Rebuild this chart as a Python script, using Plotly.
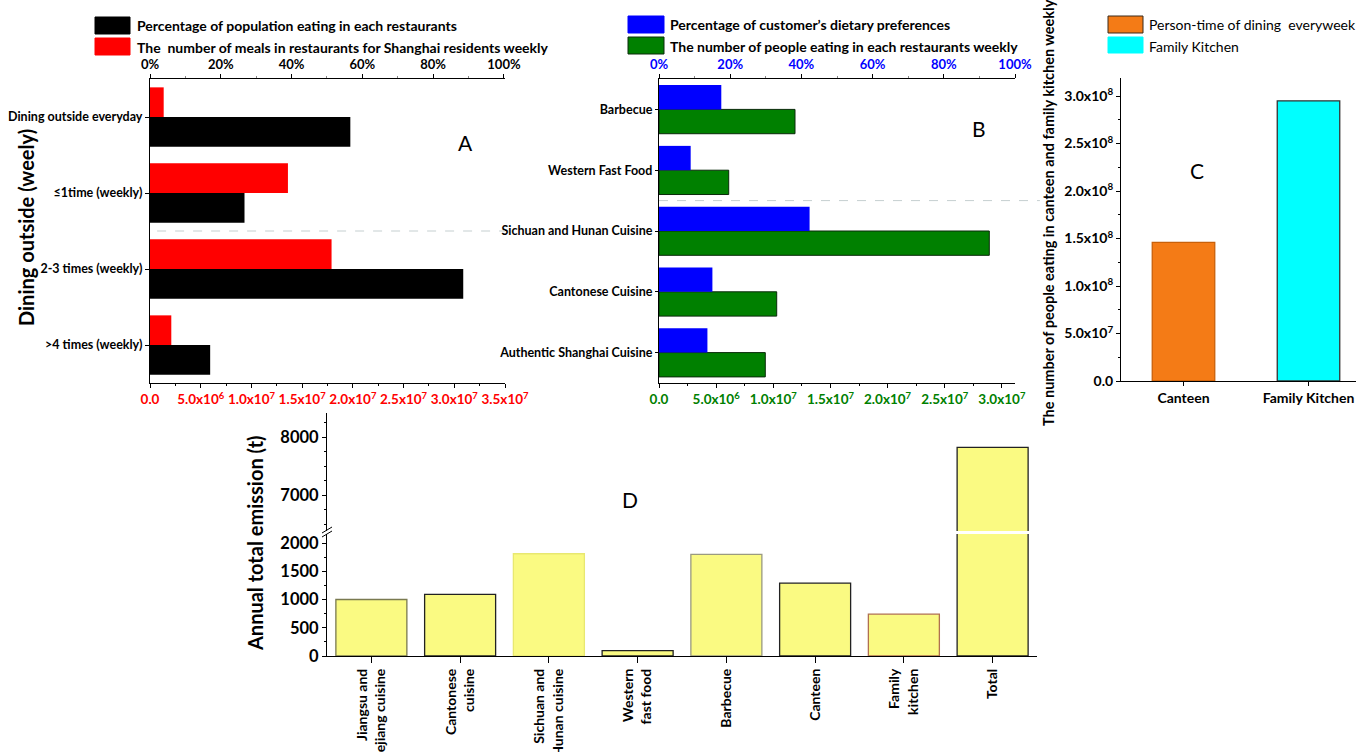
import plotly.graph_objects as go

W, H = 1360, 752

# ---------------- data ----------------
# Panel A: dining-out frequency
dine_freq = ["Dining outside everyday", "≤1time (weekly)", "2-3 times (weekly)", ">4 times (weekly)"]
meals_weekly = [1.35e6, 1.36e7, 1.79e7, 2.1e6]          # red, bottom axis
pop_share_pct = [56.6, 26.7, 88.5, 17.0]                # black, top axis (%)

# Panel B: restaurant types
cuisines = ["Barbecue", "Western Fast Food", "Sichuan and Hunan Cuisine",
            "Cantonese Cuisine", "Authentic Shanghai Cuisine"]
pref_pct = [17.5, 8.9, 42.3, 15.0, 13.6]                # blue, top axis (%)
people_weekly = [1.19e7, 6.1e6, 2.89e7, 1.03e7, 9.3e6]  # green, bottom axis

# Panel C: canteen vs family kitchen
kitchens = ["Canteen", "Family Kitchen"]
kitchen_people = [1.46e8, 2.95e8]

# Panel D: annual total emission (t)
sources = ["Jiangsu and<br>Zhejiang cuisine", "Cantonese<br>cuisine", "Sichuan and<br>Hunan cuisine",
           "Western<br>fast food", "Barbecue", "Canteen", "Family<br>kitchen", "Total"]
emission_t = [1000, 1090, 1810, 95, 1800, 1290, 740, 7820]

# tick labels
pct_vals = [0, 20, 40, 60, 80, 100]
pct_text = ["0%", "20%", "40%", "60%", "80%", "100%"]
a_x_vals = [0, 5e6, 1e7, 1.5e7, 2e7, 2.5e7, 3e7, 3.5e7]
a_x_text = ["0.0", "5.0x10<sup>6</sup>", "1.0x10<sup>7</sup>", "1.5x10<sup>7</sup>", "2.0x10<sup>7</sup>",
            "2.5x10<sup>7</sup>", "3.0x10<sup>7</sup>", "3.5x10<sup>7</sup>"]
b_x_vals = [0, 5e6, 1e7, 1.5e7, 2e7, 2.5e7, 3e7]
b_x_text = a_x_text[:7]
c_y_vals = [0, 5e7, 1e8, 1.5e8, 2e8, 2.5e8, 3e8]
c_y_text = ["0.0", "5.0x10<sup>7</sup>", "1.0x10<sup>8</sup>", "1.5x10<sup>8</sup>", "2.0x10<sup>8</sup>",
            "2.5x10<sup>8</sup>", "3.0x10<sup>8</sup>"]
d_low_vals = [0, 500, 1000, 1500, 2000]
d_high_vals = [7000, 8000]

FONT = "Lato, 'Open Sans', sans-serif"
RED, GREEN, BLUE = "#FF0000", "#008000", "#0000FF"
ORANGE, CYAN, YELLOW = "#F47B16", "#00FFFF", "#FAFA82"


def px(x):
    return x / W


def py(y):
    return 1 - y / H


def bold(size, color="black"):
    return dict(family=FONT, size=size, color=color, weight="bold")


axis_common = dict(showline=True, linecolor="black", linewidth=1.2, showgrid=False,
                   zeroline=False, ticks="outside", ticklen=4, tickcolor="black",
                   automargin=False)

fig = go.Figure()

# ---- Panel A ----
fig.add_trace(go.Bar(y=dine_freq, x=meals_weekly, orientation="h", xaxis="x", yaxis="y",
                     marker=dict(color=RED, line=dict(width=0)), width=0.39, offset=-0.39))
fig.add_trace(go.Bar(y=dine_freq, x=pop_share_pct, orientation="h", xaxis="x2", yaxis="y",
                     marker=dict(color="black", line=dict(width=0)), width=0.39, offset=0))

# ---- Panel B ----
fig.add_trace(go.Bar(y=cuisines, x=pref_pct, orientation="h", xaxis="x4", yaxis="y2",
                     marker=dict(color=BLUE, line=dict(width=0)), width=0.4, offset=-0.4))
fig.add_trace(go.Bar(y=cuisines, x=people_weekly, orientation="h", xaxis="x3", yaxis="y2",
                     marker=dict(color=GREEN, line=dict(color="#0a2a0a", width=1)), width=0.4, offset=0))

# ---- Panel C ----
fig.add_trace(go.Bar(x=kitchens, y=kitchen_people, xaxis="x5", yaxis="y3", width=0.5,
                     marker=dict(color=[ORANGE, CYAN],
                                 line=dict(color=["#C8600A", "#333333"], width=1.3))))

# ---- Panel D (broken axis: lower and upper segments) ----
d_edges = ["#7a7a50", "#222222", "#e8e870", "#222222", "#9a9a80", "#222222", "#b07050", "#222222"]
for ya in ("y4", "y5"):
    fig.add_trace(go.Bar(x=sources, y=emission_t, xaxis="x6", yaxis=ya, width=0.8,
                         marker=dict(color=YELLOW, line=dict(color=d_edges, width=1.3))))

A_X, A_Y = [px(150), px(505)], [py(383), py(79)]
B_X = [px(659), px(1015)]
C_X, C_Y = [px(1121), px(1356)], [py(381), py(78)]
D_X = [px(327), px(1037)]
D_LOW, D_HIGH = [py(656), py(534)], [py(531), py(413)]

fig.update_layout(
    width=W, height=H, margin=dict(l=0, r=0, t=0, b=0), autosize=False,
    paper_bgcolor="white", plot_bgcolor="white", showlegend=False, barmode="overlay",
    font=dict(family=FONT, color="black"),
    # A
    xaxis=dict(axis_common, domain=A_X, anchor="y", range=[0, 3.5e7], tickvals=a_x_vals, ticktext=a_x_text,
               tickfont=bold(13.5, RED), minor=dict(ticks="outside", dtick=2.5e6, ticklen=2, tickcolor="black")),
    xaxis2=dict(axis_common, overlaying="x", side="top", anchor="y", range=[0, 100.3],
                tickvals=pct_vals, ticktext=pct_text, tickfont=bold(13),
                minor=dict(ticks="outside", dtick=10, ticklen=2, tickcolor="#888")),
    yaxis=dict(axis_common, domain=A_Y, anchor="x", range=[3.5, -0.5], tickfont=bold(12.5)),
    # B
    xaxis3=dict(axis_common, domain=B_X, anchor="y2", range=[0, 3.115e7], tickvals=b_x_vals, ticktext=b_x_text,
                tickfont=bold(13.5, GREEN), minor=dict(ticks="outside", dtick=2.5e6, ticklen=2, tickcolor="black")),
    xaxis4=dict(axis_common, overlaying="x3", side="top", anchor="y2", range=[0, 100],
                tickvals=pct_vals, ticktext=pct_text, tickfont=bold(13, BLUE),
                minor=dict(ticks="outside", dtick=10, ticklen=2, tickcolor="#888")),
    yaxis2=dict(axis_common, domain=A_Y, anchor="x3", range=[4.5, -0.5], tickfont=bold(12.5), ticklen=3),
    # C
    xaxis5=dict(axis_common, domain=C_X, anchor="y3", range=[-0.5, 1.38], tickfont=bold(14)),
    yaxis3=dict(axis_common, domain=C_Y, anchor="x5", range=[0, 3.19e8], tickvals=c_y_vals, ticktext=c_y_text,
                tickfont=bold(14), minor=dict(ticks="outside", dtick=2.5e7, ticklen=2, tickcolor="black")),
    # D
    xaxis6=dict(axis_common, domain=D_X, anchor="y4", range=[-0.5, 7.5], tickangle=-90, tickfont=bold(14),
                ticklen=6),
    yaxis4=dict(axis_common, domain=D_LOW, anchor="x6", range=[0, 2160], tickvals=d_low_vals,
                tickfont=bold(16.5), minor=dict(ticks="outside", dtick=250, ticklen=2, tickcolor="black")),
    yaxis5=dict(axis_common, domain=D_HIGH, anchor="x6", range=[6380, 8414], tickvals=d_high_vals,
                tickfont=bold(16.5), minor=dict(ticks="outside", dtick=250, ticklen=2, tickcolor="black")),
)

shapes = []
# legend swatches
for (x0, y0, x1, y1, fill, edge) in [
    (95, 17, 130, 34, "black", "black"), (95, 38, 130, 55, RED, RED),
    (628, 16, 664, 33, BLUE, BLUE), (628, 37, 664, 54, GREEN, "#0a2a0a"),
    (1108, 16, 1143, 33, ORANGE, "#3a2a1a"), (1108, 37, 1143, 53, CYAN, CYAN),
]:
    shapes.append(dict(type="rect", xref="paper", yref="paper", x0=px(x0), x1=px(x1), y0=py(y1), y1=py(y0),
                       fillcolor=fill, line=dict(color=edge, width=1)))
# dashed separators
shapes.append(dict(type="line", xref="x domain", yref="y", x0=0.02, x1=1.0, y0=1.5, y1=1.5,
                   line=dict(color="#c5cfd0", width=1, dash="dash")))
shapes.append(dict(type="line", xref="x3 domain", yref="y2", x0=0.0, x1=1.07, y0=1.5, y1=1.5,
                   line=dict(color="#c5cfd0", width=1, dash="dash")))
# axis-break marks on panel D
for dy in (0, 4):
    shapes.append(dict(type="line", xref="paper", yref="paper", x0=px(322), x1=px(332),
                       y0=py(537 - dy), y1=py(531 - dy), line=dict(color="black", width=1)))
fig.update_layout(shapes=shapes)

ann = []


def note(x, y, text, font, angle=0, xanchor="center"):
    ann.append(dict(xref="paper", yref="paper", x=px(x), y=py(y), text=text, showarrow=False,
                    font=font, textangle=angle, xanchor=xanchor, yanchor="middle"))


# legend texts
note(135, 26, "Percentage of population eating in each restaurants", bold(14), xanchor="left")
note(135, 47, "The  number of meals in restaurants for Shanghai residents weekly", bold(14), xanchor="left")
note(668, 25, "Percentage of customer’s dietary preferences", bold(14), xanchor="left")
note(668, 46, "The number of people eating in each restaurants weekly", bold(14), xanchor="left")
note(1147, 25, "Person-time of dining  everyweek", dict(family=FONT, size=14, color="black"), xanchor="left")
note(1147, 46, "Family Kitchen", dict(family=FONT, size=14, color="black"), xanchor="left")
# axis titles
note(26, 228, "Dining outside (weely)", bold(20), angle=-90)
note(1049, 213, "The number of people eating in canteen and family kitchen weekly", bold(14.5), angle=-90)
note(255, 543, "Annual total emission (t)", bold(20), angle=-90)
# panel letters
letter = dict(family=FONT, size=21, color="black")
note(465, 142, "A", letter)
note(979, 128, "B", letter)
note(1197, 170, "C", letter)
note(630, 499, "D", letter)
fig.update_layout(annotations=ann)

fig.write_html("out.html")
